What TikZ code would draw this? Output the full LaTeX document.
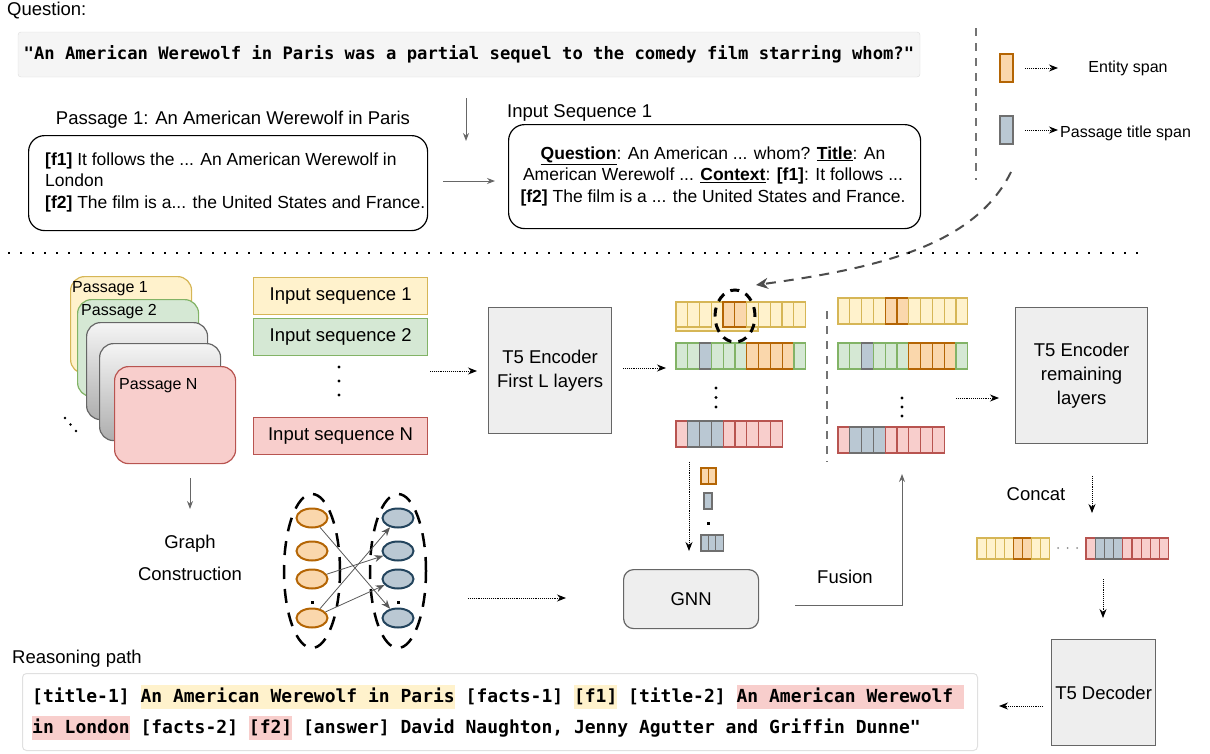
\documentclass[tikz,border=0pt]{standalone}
\usepackage{fontspec}
\setmainfont{Liberation Sans}
\setmonofont{DejaVu Sans Mono}
\usetikzlibrary{arrows.meta,shapes.geometric}

\definecolor{qgray}{HTML}{F5F5F5}
\definecolor{qline}{HTML}{DCDCDC}
\definecolor{ycell}{HTML}{FFF2CC}
\definecolor{ydraw}{HTML}{D6B656}
\definecolor{gcell}{HTML}{D5E8D4}
\definecolor{gdraw}{HTML}{82B366}
\definecolor{rcell}{HTML}{F8CECC}
\definecolor{rdraw}{HTML}{B85450}
\definecolor{ocell}{HTML}{FAD7AC}
\definecolor{odraw}{HTML}{B46504}
\definecolor{bcell}{HTML}{BAC8D3}
\definecolor{bdraw}{HTML}{6F6F6F}
\definecolor{bnode}{HTML}{23445D}
\definecolor{boxfill}{HTML}{EEEEEE}
\definecolor{boxline}{HTML}{666666}

% one row of tokens: x, y, cell width, cell height, colours
\newcommand{\tokrow}[5]{\foreach \tk [count=\i from 0] in {#5} {\draw[tok=\tk] ({#1+\i*#3},#2) rectangle ++(#3,#4);}}
\newcommand{\hilite}[2]{{\setlength{\fboxsep}{0pt}\colorbox{#1}{\vrule height 17pt depth 7pt width 0pt #2}}}

\begin{document}
\begin{tikzpicture}[x=1pt,y=-1pt,
  lbl/.style={inner sep=0pt, font=\fontsize{18.5}{21.5}\selectfont},
  boxtext/.style={inner sep=0pt, font=\fontsize{17.5}{21.5}\selectfont},
  small/.style={inner sep=0pt, font=\fontsize{16}{19}\selectfont},
  qbox/.style={draw=qline, fill=qgray, rounded corners=3pt, minimum width=902pt, minimum height=45pt, inner sep=0pt, font=\fontsize{17.2}{20}\selectfont\ttfamily\bfseries},
  box/.style={draw=boxline, fill=boxfill, line width=1.2pt, inner sep=0pt, align=center, anchor=north west, font=\fontsize{18.5}{24}\selectfont},
  rbox/.style={draw=black, line width=1.2pt, rounded corners=16pt, inner sep=0pt, anchor=north west},
  seqbox/.style={line width=1.2pt, minimum width=174pt, minimum height=37pt, inner sep=0pt, anchor=north west, font=\fontsize{18.5}{21.5}\selectfont},
  pass/.style={line width=1.2pt, rounded corners=14pt, minimum width=121pt, minimum height=97pt, inner sep=0pt, anchor=north west},
  tok/.style={fill=#1cell, draw=#1draw, line width=1.2pt},
  legtok/.style={line width=1.2pt, minimum width=13pt, minimum height=28pt, inner sep=0pt},
  ent/.style={ellipse, draw=odraw, fill=ocell, line width=2pt, minimum width=31pt, minimum height=19pt, inner sep=0pt},
  tit/.style={ellipse, draw=bnode, fill=bcell, line width=2pt, minimum width=31pt, minimum height=19pt, inner sep=0pt},
  grayarrow/.style={draw=black!60, line width=1pt, -{Stealth[length=8pt,width=6pt]}},
  dotarrow/.style={densely dotted, line width=0.9pt, -{Stealth[length=9pt,width=7pt]}},
  edge/.style={draw=black!65, line width=0.8pt, -{Stealth[length=9pt,width=7pt]}},
  graydash/.style={draw=black!55, line width=2pt, dash pattern=on 8pt off 7pt},
]
\useasboundingbox (0,0) rectangle (1210,753);

% question
\node[lbl, anchor=west] (qlabel) at (7,11) {Question:};
\node[qbox] (qtext) at (469,54.5) {"An American Werewolf in Paris was a partial sequel to the comedy film starring whom?"};
\coordinate (qa1) at (466,98);
\coordinate (qa2) at (466,141);
\draw[grayarrow] (qa1) -- (qa2);

% passage 1 and input sequence 1
\node[lbl] (ptitle) at (233,120) {Passage 1: An American Werewolf in Paris};
\node[rbox, minimum width=399pt, minimum height=95pt] (pbox) at (28,135) {};
\node[boxtext, anchor=west, align=left] (ptext) at (45,182) {\textbf{[f1]} It follows the ... An American Werewolf in\\London\\\textbf{[f2]} The film is a... the United States and France.};
\node[lbl, anchor=west] (stitle) at (507,113) {Input Sequence 1};
\node[rbox, minimum width=412pt, minimum height=104pt] (sbox) at (508,124) {};
\node[boxtext, align=center] (stext) at (713,176) {\underline{\textbf{Question}}: An American ... whom? \underline{\textbf{Title}}: An\\American Werewolf ... \underline{\textbf{Context}}: \textbf{[f1]}: It follows ...\\\textbf{[f2]} The film is a ... the United States and France.};
\coordinate (pa1) at (443,181);
\coordinate (pa2) at (495,181);
\draw[grayarrow] (pa1) -- (pa2);

% legend
\draw[graydash] (976,28) -- (976,180);
\node[legtok, draw=odraw, fill=ocell] (lent) at (1006.5,68) {};
\node[legtok, draw=bdraw, fill=bcell] (ltit) at (1006.5,130) {};
\node[small] (lenttext) at (1128,68) {Entity span};
\node[small, anchor=west] (ltittext) at (1060,133) {Passage title span};
\coordinate (la1) at (1025,68);
\coordinate (la2) at (1058,68);
\coordinate (lb1) at (1025,130);
\coordinate (lb2) at (1058,130);
\draw[dotarrow] (la1) -- (la2);
\draw[dotarrow] (lb1) -- (lb2);
\coordinate (cstart) at (1011,172);
\coordinate (cend) at (756,285);
\draw[draw=black!70, line width=2pt, dash pattern=on 10pt off 8pt, -{Stealth[length=12pt,width=11pt,open]}] (cstart) .. controls (975,245) and (880,268) .. (cend);

% separator
\draw[line width=2pt, dash pattern=on 2pt off 10pt] (8,253) -- (1140,253);

% passages
\node[pass, draw=ydraw, fill=ycell] (pass1) at (70,276) {};
\node[small, anchor=west] (lp1) at (72,289) {Passage 1};
\node[pass, draw=gdraw, fill=gcell] (pass2) at (77,299) {};
\node[small, anchor=west] (lp2) at (81,312) {Passage 2};
\node[pass, draw=boxline, top color=black!4, bottom color=black!32] (pass3) at (86,322) {};
\node[pass, draw=boxline, top color=black!4, bottom color=black!32] (pass4) at (99,343) {};
\node[pass, draw=rdraw, fill=rcell] (passN) at (114,366) {};
\node[small, anchor=west] (lpN) at (119,386) {Passage N};
\foreach \d in {0,1,2} \fill (65+5.5*\d,418+6.5*\d) circle (1.4pt);

% input sequences
\node[seqbox, draw=ydraw, fill=ycell] (seq1) at (253,277) {Input sequence 1};
\node[seqbox, draw=gdraw, fill=gcell] (seq2) at (253,318) {Input sequence 2};
\node[seqbox, draw=rdraw, fill=rcell] (seqN) at (253,417) {Input sequence N};
\foreach \d in {0,1,2} \fill (339,367+14*\d) circle (1.6pt);
\coordinate (ea1) at (430,371);
\coordinate (ea2) at (477,371);
\draw[dotarrow] (ea1) -- (ea2);

% encoder
\node[box, minimum width=123pt, minimum height=126pt] (enc1) at (488,307) {T5 Encoder\\First L layers};
\coordinate (eb1) at (623,368);
\coordinate (eb2) at (666,368);
\draw[dotarrow] (eb1) -- (eb2);

% token rows after first layers
\draw[tok=y] (676,302) rectangle (758,331);
\tokrow{676}{302}{11.8}{25}{y,y,y}
\tokrow{723}{302}{11.8}{25}{o,o,y,y,y,y,y}
\tokrow{676}{343}{11.8}{26}{g,g,b,g,g,g,o,o,o,o,g}
\tokrow{676}{421}{11.8}{26}{r,b,b,b,r,r,r,r,r}
\foreach \d in {0,1,2} \fill (716,388+9.5*\d) circle (1.6pt);
\draw[line width=3pt, dash pattern=on 9pt off 7pt] (735,316) ellipse [x radius=20pt, y radius=26pt];

\draw[graydash] (827,311) -- (827,462);

% token rows after fusion
\tokrow{838}{298}{11.8}{26}{y,y,y,y,o,o,y,y,y,y,y}
\tokrow{838}{343}{11.8}{26}{g,g,b,g,g,g,o,o,o,o,g}
\tokrow{838}{427}{11.8}{26}{r,b,b,b,r,r,r,r,r}
\foreach \d in {0,1,2} \fill (902,398+9*\d) circle (1.6pt);
\coordinate (fa1) at (956,398);
\coordinate (fa2) at (999,398);
\draw[dotarrow] (fa1) -- (fa2);

% encoder, concat, decoder
\node[box, minimum width=132pt, minimum height=136pt] (enc2) at (1015,307) {T5 Encoder\\remaining\\layers};
\node[lbl] (concat) at (1036,494) {Concat};
\coordinate (ca1) at (1092,476);
\coordinate (ca2) at (1092,513);
\draw[dotarrow] (ca1) -- (ca2);
\tokrow{977}{538}{9.1}{21}{y,y,y,y,o,o,y,y}
\foreach \d in {0,1,2} \fill[black!45] (1058+9.5*\d,548) circle (1pt);
\tokrow{1086}{538}{9.2}{21}{r,b,b,b,r,r,r,r,r}
\coordinate (da1) at (1103,579);
\coordinate (da2) at (1103,618);
\draw[dotarrow] (da1) -- (da2);
\node[box, minimum width=104pt, minimum height=106pt] (dec) at (1051,639) {T5 Decoder};
\coordinate (ra1) at (1043,706);
\coordinate (ra2) at (999,706);
\draw[dotarrow] (ra1) -- (ra2);

% graph construction
\coordinate (ga1) at (190,478);
\coordinate (ga2) at (190,509);
\draw[grayarrow] (ga1) -- (ga2);
\node[lbl, align=center, font=\fontsize{18.5}{32}\selectfont] (gtext) at (190,558) {Graph\\Construction};
\node[ent] (o1) at (312,518) {};
\node[ent] (o2) at (312,551) {};
\node[ent] (o3) at (312,579) {};
\node[ent] (o4) at (312,618) {};
\node[tit] (b1) at (398,518) {};
\node[tit] (b2) at (398,551) {};
\node[tit] (b3) at (398,579) {};
\node[tit] (b4) at (398,618) {};
\fill (310.5,600.5) rectangle ++(3.5,3.5);
\fill (396.5,600.5) rectangle ++(3.5,3.5);
\draw[line width=2.5pt, dash pattern=on 14pt off 10pt] (312,571) ellipse [x radius=28pt, y radius=77pt];
\draw[line width=2.5pt, dash pattern=on 14pt off 10pt] (398,571) ellipse [x radius=28pt, y radius=77pt];
\draw[edge] (o1) -- (b4);
\draw[edge] (o3) -- (b2);
\draw[edge] (o4) -- (b1);
\draw[edge] (o4) -- (b3);
\coordinate (na1) at (468,598);
\coordinate (na2) at (566,598);
\draw[dotarrow] (na1) -- (na2);

% gnn
\coordinate (ta1) at (689,462);
\coordinate (ta2) at (689,551);
\draw[dotarrow] (ta1) -- (ta2);
\tokrow{701}{468}{7.5}{16}{o,o}
\tokrow{704}{493}{8}{16}{b}
\fill (706.5,521.5) rectangle ++(3.5,3.5);
\tokrow{701}{535}{7.4}{16}{b,b,b}
\node[box, rounded corners=10pt, minimum width=135pt, minimum height=59pt] (gnn) at (623,569) {GNN};
\node[lbl] (fusion) at (845,577) {Fusion};
\coordinate (fu1) at (795,605);
\coordinate (fu2) at (902,605);
\coordinate (fu3) at (902,474);
\draw[grayarrow] (fu1) -- (fu2) -- (fu3);

% reasoning path
\node[lbl, anchor=west] (rlabel) at (12,659) {Reasoning path};
\node[draw=black!12, line width=1pt, rounded corners=4pt, minimum width=955pt, minimum height=77pt, inner sep=0pt, anchor=north west] (rbox) at (22,673) {};
\node[anchor=west, align=left, inner sep=0pt, font=\fontsize{18}{31}\selectfont\ttfamily\bfseries] (rtext) at (32,712.5) {[title-1] \hilite{ycell}{An American Werewolf in Paris} [facts-1] \hilite{ycell}{[f1]} [title-2] \hilite{rcell}{An American Werewolf\ }\\\hilite{rcell}{in London} [facts-2] \hilite{rcell}{[f2]} [answer] David Naughton, Jenny Agutter and Griffin Dunne"};
\end{tikzpicture}
\end{document}
